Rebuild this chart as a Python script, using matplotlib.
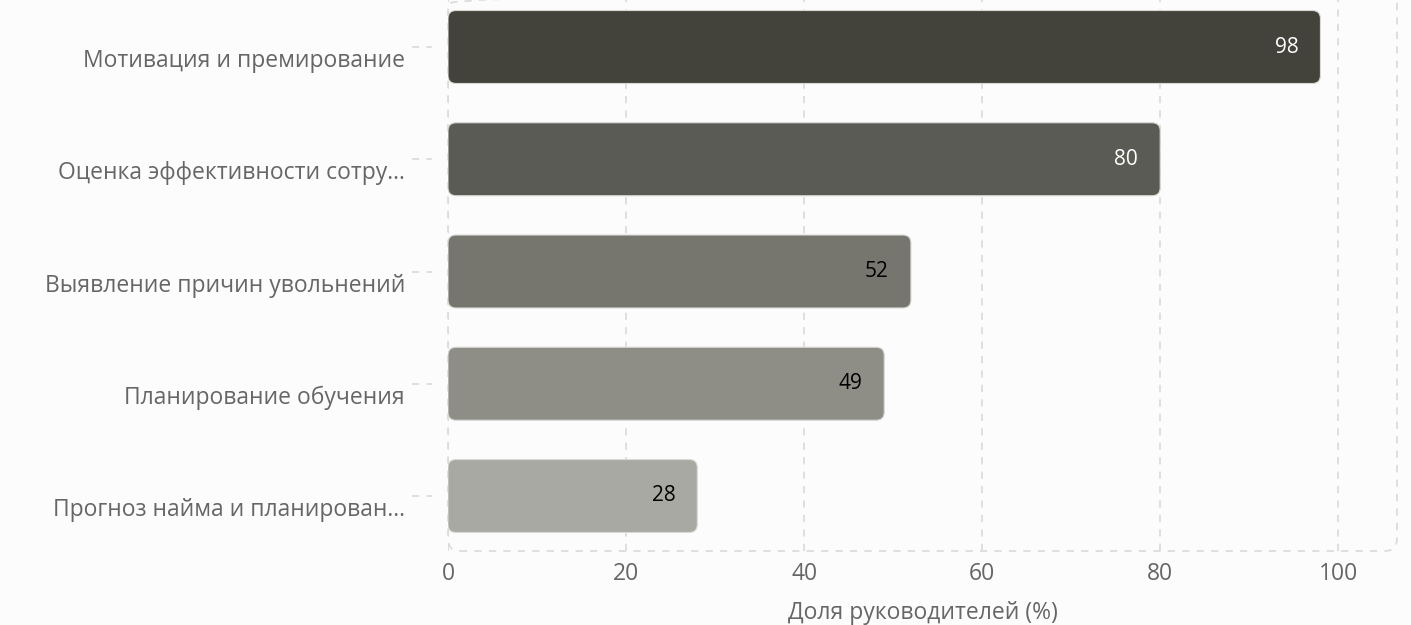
import numpy as np
import matplotlib
matplotlib.use('Agg')
import matplotlib.pyplot as plt
from matplotlib.patches import FancyBboxPatch
import matplotlib.transforms as mtransforms

categories = ['Мотивация и премирование',
              'Оценка эффективности сотру...',
              'Выявление причин увольнений',
              'Планирование обучения',
              'Прогноз найма и планирован...']
values = [98, 80, 52, 49, 28]
bar_colors = ['#43433c', '#5b5b55', '#76766f', '#8e8e87', '#a9a9a3']
label_colors = ['white', 'white', 'black', 'black', 'black']
xticks = [0, 20, 40, 60, 80, 100]

plt.rcParams['font.family'] = ['Open Sans', 'DejaVu Sans']

W, H = 1411, 625
fig = plt.figure(figsize=(W / 100, H / 100), dpi=100, facecolor='#fcfcfc')
ax_l, ax_r, ax_b, ax_t = 448, 1397, 551, -8
ax = fig.add_axes([ax_l / W, (H - ax_b) / H, (ax_r - ax_l) / W, (ax_b - ax_t) / H])
ax.set_facecolor('#fcfcfc')

xmax = 106.6
ax.set_xlim(0, xmax)
ax.set_ylim(4.49, -0.49)

# px per data unit, for round corners
px_x = (ax_r - ax_l) / xmax
px_y = (ax_b - ax_t) / 4.98
bar_h = 0.65
r_px = 8
for i, (v, c) in enumerate(zip(values, bar_colors)):
    box = FancyBboxPatch((0, i - bar_h / 2), v, bar_h,
                         boxstyle='round,pad=0,rounding_size=%f' % (r_px / px_x),
                         mutation_aspect=px_x / px_y,
                         facecolor=c, edgecolor='#d8d8d4', linewidth=0.8, zorder=3)
    ax.add_patch(box)
    ax.text(v - 22 / px_x, i, str(v), ha='right', va='center',
            fontsize=15, color=label_colors[i], zorder=4)

ax.set_xticks(xticks)
ax.set_yticks(range(len(categories)))
ax.set_yticklabels(categories)
ax.tick_params(axis='y', length=0, pad=31, labelsize=16.5, labelcolor='#666666')
ax.tick_params(axis='x', length=0, pad=8, labelsize=16.5, labelcolor='#666666')
ax.xaxis.grid(True, color='#dcdcdc', linestyle=(0, (4, 4)), linewidth=1.3)
ax.set_axisbelow(True)
for s in ax.spines.values():
    s.set_visible(False)

# category labels sit a bit below their tick
shift = mtransforms.ScaledTranslation(0, -11 / 100, fig.dpi_scale_trans)
for lab in ax.get_yticklabels():
    lab.set_transform(lab.get_transform() + shift)

ax.set_xlabel('Доля руководителей (%)', fontsize=16.5, color='#666666', labelpad=11)

# dashed tick stubs on the left
trans = mtransforms.blended_transform_factory(ax.transAxes, ax.transData)
aw = ax_r - ax_l
for i in range(len(categories)):
    ax.plot([-36 / aw, -16 / aw], [i, i], transform=trans, color='#dcdcdc',
            linestyle=(0, (4, 4)), linewidth=1.3, clip_on=False)

# dashed rounded frame
ah = ax_b - ax_t
frame = FancyBboxPatch((0, 0), 1, 1, transform=ax.transAxes,
                       boxstyle='round,pad=0,rounding_size=%f' % (12 / aw),
                       mutation_aspect=aw / ah, fill=False,
                       edgecolor='#dcdcdc', linestyle=(0, (4, 4)), linewidth=1.3,
                       clip_on=False, zorder=1)
ax.add_patch(frame)

plt.savefig('out.png', dpi=100, facecolor='#fcfcfc')
